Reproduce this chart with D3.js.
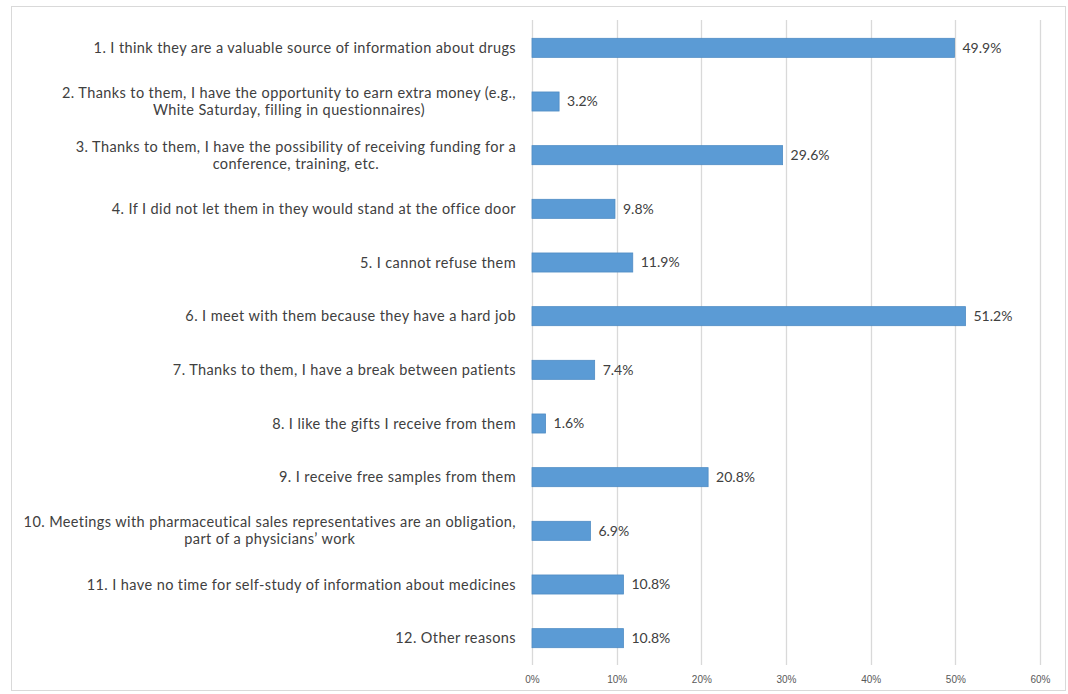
<!DOCTYPE html>
<html>
<head>
<meta charset="utf-8">
<script src="https://cdn.jsdelivr.net/npm/d3@7"></script>
<style>
  body { margin: 0; background: #fff; }
  svg { display: block; font-family: Lato, "Open Sans", sans-serif; }
  .cat { fill: #404040; font-size: 14.5px; letter-spacing: 0.4px; }
  .val { fill: #404040; font-size: 14px; }
  .tick text { fill: #595959; font-size: 10px; }
</style>
</head>
<body>
<script>
(function(){

//categories (line breaks as in the original chart)
var categories = [
    "1. I think they are a valuable source of information about drugs",
    "2. Thanks to them, I have the opportunity to earn extra money (e.g.,\nWhite Saturday, filling in questionnaires)",
    "3. Thanks to them, I have the possibility of receiving funding for a\nconference, training, etc.",
    "4. If I did not let them in they would stand at the office door",
    "5. I cannot refuse them",
    "6. I meet with them because they have a hard job",
    "7. Thanks to them, I have a break between patients",
    "8. I like the gifts I receive from them",
    "9. I receive free samples from them",
    "10. Meetings with pharmaceutical sales representatives are an obligation,\npart of a physicians\u2019 work",
    "11. I have no time for self-study of information about medicines",
    "12. Other reasons"
];
//percent of respondents
var values = [49.9, 3.2, 29.6, 9.8, 11.9, 51.2, 7.4, 1.6, 20.8, 6.9, 10.8, 10.8];
//x axis ticks
var xTicks = [0, 10, 20, 30, 40, 50, 60];

var width = 1068,
    height = 694;

var svg = d3.select("body")
    .append("svg")
    .attr("width", width)
    .attr("height", height);

//outer frame
svg.append("rect")
    .attr("x", 11.5)
    .attr("y", 6.5)
    .attr("width", 1054)
    .attr("height", 684)
    .attr("fill", "#fff")
    .attr("stroke", "#d9d9d9");

var x = d3.scaleLinear()
    .domain([0, 60])
    .range([532, 1040]);

var y = d3.scaleBand()
    .domain(d3.range(categories.length))
    .range([21, 665])
    .paddingInner(0.645)
    .paddingOuter(0.3225);

//vertical gridlines
svg.selectAll(".grid")
    .data(xTicks)
    .enter()
    .append("line")
    .attr("class", "grid")
    .attr("x1", function(d){ return Math.round(x(d)) + 0.5; })
    .attr("x2", function(d){ return Math.round(x(d)) + 0.5; })
    .attr("y1", 20)
    .attr("y2", 665)
    .attr("stroke", "#d9d9d9")
    .attr("stroke-width", 1.3);

//x axis tick labels
var xAxis = d3.axisBottom(x)
    .tickValues(xTicks)
    .tickFormat(function(d){ return d + "%"; })
    .tickSize(0)
    .tickPadding(0);

var axisG = svg.append("g")
    .attr("transform", "translate(0,676)")
    .call(xAxis);
axisG.select(".domain").remove();
axisG.selectAll("text").attr("dy", "0.71em");

//bars
svg.selectAll(".bar")
    .data(values)
    .enter()
    .append("rect")
    .attr("class", "bar")
    .attr("x", x(0))
    .attr("y", function(d, i){ return y(i); })
    .attr("width", function(d){ return x(d) - x(0); })
    .attr("height", y.bandwidth())
    .attr("fill", "#5b9bd5")
    .attr("stroke", "#4f8cc4")
    .attr("stroke-width", 0.8);

//value labels
svg.selectAll(".val")
    .data(values)
    .enter()
    .append("text")
    .attr("class", "val")
    .attr("x", function(d){ return x(d) + 8; })
    .attr("y", function(d, i){ return y(i) + y.bandwidth() / 2; })
    .attr("dy", "0.35em")
    .text(function(d){ return d.toFixed(1) + "%"; });

//category labels, right aligned block, lines centred within the block
var labelRight = 516,
    lineH = 17;

categories.forEach(function(cat, i){
    var lines = cat.split("\n");
    var cy = y(i) + y.bandwidth() / 2;
    var g = svg.append("g").attr("class", "catg");
    var texts = lines.map(function(line, j){
        return g.append("text")
            .attr("class", "cat")
            .attr("y", cy + (j - (lines.length - 1) / 2) * lineH)
            .attr("dy", "0.35em")
            .text(line);
    });
    if (lines.length == 1){
        texts[0].attr("x", labelRight).attr("text-anchor", "end");
    } else {
        var blockW = d3.max(texts, function(t){ return t.node().getComputedTextLength(); });
        texts.forEach(function(t){
            t.attr("x", labelRight - blockW / 2).attr("text-anchor", "middle");
        });
    }
});

})();
</script>
</body>
</html>
